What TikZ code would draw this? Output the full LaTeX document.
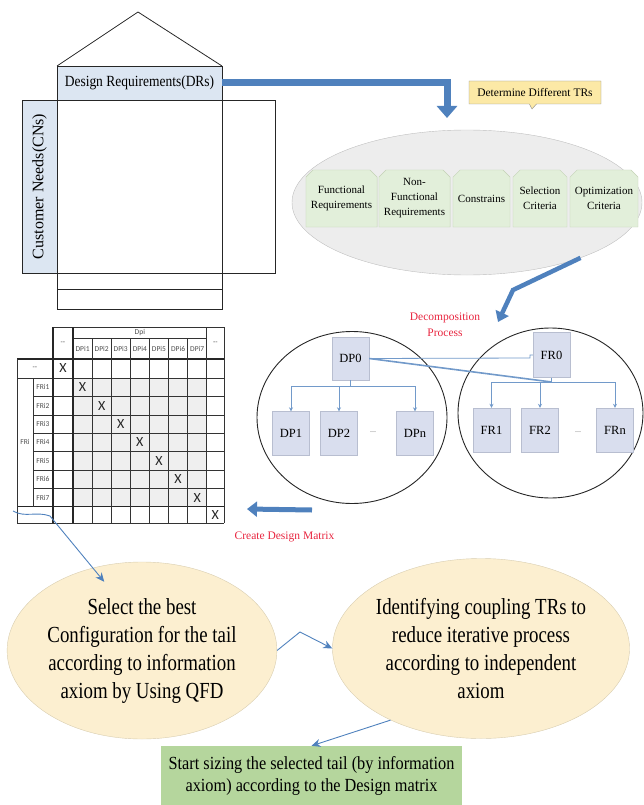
\documentclass[tikz,border=0pt]{standalone}
\usepackage{fontspec}
\setmainfont{Liberation Serif}
\newfontfamily\calfont{Carlito}
\usetikzlibrary{arrows.meta,shapes.geometric,shapes.misc,shapes.callouts}
\definecolor{bandblue}{HTML}{DCE6F2}
\definecolor{arrowblue}{HTML}{4F81BD}
\definecolor{trgreen}{HTML}{E2EFDA}
\definecolor{trgreenline}{HTML}{C3D2B5}
\definecolor{ellgray}{HTML}{EDEDED}
\definecolor{boxblue}{HTML}{D9DEEE}
\definecolor{boxblueline}{HTML}{B8BED0}
\definecolor{ovalyellow}{HTML}{FCEFD0}
\definecolor{ovalline}{HTML}{D8CDB0}
\definecolor{startgreen}{HTML}{B5D69D}
\definecolor{calloutyellow}{HTML}{FCE9A6}
\definecolor{cellgray}{HTML}{EFEFEF}
\definecolor{redtext}{HTML}{E8253F}
\begin{document}
\begin{tikzpicture}[x=1pt,y=-1pt,
    hqline/.style={draw=black!85, line width=0.8pt},
    band/.style={draw=black!85, fill=bandblue, inner sep=0pt, font=\fontsize{13.5}{15}\selectfont},
    fatarrow/.style={draw=arrowblue, line width=7pt, -{Triangle[width=20pt,length=12pt]}},
    thinarrow/.style={draw=arrowblue, line width=0.9pt, -{Stealth[width=8pt,length=9pt]}},
    treeline/.style={draw=arrowblue!80, line width=0.8pt},
    treearrow/.style={treeline, -{Stealth[width=4pt,length=4pt]}},
    trbox/.style={chamfered rectangle, chamfered rectangle corners={north west,north east},
      chamfered rectangle xsep=4pt, fill=trgreen, draw=trgreenline, inner sep=1pt,
      minimum height=57, align=center, font=\fontsize{11}{15}\selectfont},
    dpbox/.style={draw=boxblueline, fill=boxblue, minimum width=37, minimum height=44,
      inner sep=0pt, font=\fontsize{12.5}{14}\selectfont},
    bigcircle/.style={draw=black!85, ellipse, line width=0.9pt, inner sep=0pt},
    gridline/.style={draw=black!80, line width=0.6pt},
    thickgrid/.style={draw=black!85, line width=1.2pt},
    mtxlabel/.style={inner sep=0pt, text=black!70, font=\calfont\fontsize{7.5}{8}\selectfont},
    xmark/.style={inner sep=0pt, text=black!85, font=\calfont\fontsize{14}{14}\selectfont},
    oval/.style={ellipse, draw=ovalline, fill=ovalyellow, inner sep=0pt, align=center,
      xscale=0.82, minimum width=329, minimum height=177, font=\fontsize{23}{28}\selectfont},
    redlabel/.style={text=redtext, align=center, inner sep=0pt, font=\fontsize{11.5}{16}\selectfont}]
  \useasboundingbox (0,0) rectangle (643,805);

  %draw the house of quality
  \node[band, xscale=0.87, minimum width=190, minimum height=34, font=\fontsize{15.5}{17}\selectfont] (drs) at (139.5,83) {Design Requirements(DRs)};
  \node[band, minimum width=173, minimum height=35, rotate=90, font=\fontsize{16}{18}\selectfont] (cns) at (39.5,186.5) {Customer Needs(CNs)};
  \draw[hqline] (57,66) -- (138,12) -- (222,66);
  \draw[hqline] (57,66) rectangle (222,289);
  \draw[hqline] (57,289) rectangle (222,309);
  \draw[hqline] (22,100) rectangle (275,273);

  %determine the different TRs
  \coordinate (trtop) at (447,118);
  \draw[fatarrow] (drs.east) -| (trtop);
  \node[rectangle callout, fill=calloutyellow, draw=black!45, minimum width=132, minimum height=23,
    inner sep=1pt, callout absolute pointer={(532,109)}, font=\fontsize{11.5}{13}\selectfont] (trlabel) at (535,92.5) {Determine Different TRs};
  \node[ellipse, draw=black!25, fill=ellgray, minimum width=350, minimum height=145] (trs) at (467,202.5) {};
  \node[trbox, minimum width=63] (func) at (341.5,198.5) {Functional\\Requirements};
  \node[trbox, minimum width=65] (nonfunc) at (414.5,198.5) {Non-\\Functional\\Requirements};
  \node[trbox, minimum width=53] (constr) at (481.5,198.5) {Constrains};
  \node[trbox, minimum width=54] (select) at (540,198.5) {Selection\\Criteria};
  \node[trbox, minimum width=64] (optim) at (604,198.5) {Optimization\\Criteria};

  %decomposition process
  \coordinate (decomp) at (498,322);
  \draw[fatarrow, line width=4.5pt, -{Triangle[width=14pt,length=10pt]}] (trs.-26) -- (513,290) -- (decomp);
  \node[redlabel] (decomplabel) at (445,325) {Decomposition\\Process};
  \node[bigcircle, minimum width=190, minimum height=172] (dpcircle) at (352,417.5) {};
  \node[bigcircle, minimum width=185, minimum height=170] (frcircle) at (550.5,413) {};

  \node[dpbox, minimum height=43] (dp0) at (350.5,358.5) {DP0};
  \node[dpbox] (dp1) at (291,433.5) {DP1};
  \node[dpbox] (dp2) at (339,433.5) {DP2};
  \node[inner sep=0pt, text=black!60, font=\fontsize{8}{8}\selectfont] (dpdots) at (373,432) {...};
  \node[dpbox] (dpn) at (415,433.5) {DPn};
  \coordinate (dpjoin) at (350.5,386);
  \draw[treeline] (dp0) -- (dpjoin);
  \foreach \n in {dp1,dp2,dpn}
    \draw[treearrow] (dpjoin) -| (\n.north);

  \node[dpbox, minimum height=45] (fr0) at (551.5,355) {FR0};
  \node[dpbox] (fr1) at (491.5,430) {FR1};
  \node[dpbox] (fr2) at (540,430) {FR2};
  \node[inner sep=0pt, text=black!60, font=\fontsize{8}{8}\selectfont] (frdots) at (578,432) {...};
  \node[dpbox] (frn) at (615,430) {FRn};
  \coordinate (frjoin) at (551.5,382);
  \draw[treeline] (fr0) -- (frjoin);
  \foreach \n in {fr1,fr2,frn}
    \draw[treearrow] (frjoin) -| (\n.north);

  \coordinate (linkbend) at (530,358);
  \draw[treeline] (dp0.east) -- (linkbend) |- (fr0.west);
  \draw[treeline, line width=1.6pt] (dp0.east) -- (frjoin);

  %draw the design matrix
  \fill[cellgray] (73,378) rectangle (206.7,506.8);
  \draw[gridline] (53,327) -- (224,327);
  \draw[gridline] (73,338) -- (206.7,338);
  \draw[thickgrid] (17,359) -- (224,359);
  \draw[gridline] (17,378) -- (224,378);
  \foreach \k in {1,...,6}
    \draw[gridline] (33,378+18.4*\k) -- (224,378+18.4*\k);
  \draw[thickgrid] (17,506.8) -- (224,506.8);
  \draw[gridline] (17,523) -- (224,523);
  \draw[gridline] (17,359) -- (17,523);
  \draw[gridline] (33,378) -- (33,506.8);
  \draw[thickgrid] (53,327) -- (53,523);
  \draw[thickgrid] (73,327) -- (73,523);
  \foreach \j in {1,...,6}
    \draw[gridline] (73+19.1*\j,338) -- (73+19.1*\j,523);
  \draw[gridline] (206.7,327) -- (206.7,523);
  \draw[gridline] (224,327) -- (224,523);

  \node[mtxlabel] (dpi) at (139.85,332.5) {Dpi};
  \foreach \j in {1,...,7}
    \node[mtxlabel] (dpi\j) at (73+19.1*\j-9.55,348.5) {DPi\j};
  \node[mtxlabel] (dashtop) at (63,343) {--};
  \node[mtxlabel] (dashend) at (215.35,343) {--};
  \node[mtxlabel] (dashrow) at (35,368.5) {--};
  \node[mtxlabel] (fri) at (25,442.4) {FRi};
  \foreach \k in {1,...,7}
    \node[mtxlabel] (fri\k) at (43,378+18.4*\k-9.2) {FRi\k};
  \node[xmark] (x0) at (63,368.5) {X};
  \foreach \k in {1,...,7}
    \node[xmark] (x\k) at (73+19.1*\k-9.55,378+18.4*\k-9.2) {X};
  \node[xmark] (x8) at (215.35,514.9) {X};

  %create design matrix arrow
  \coordinate (cdmtail) at (312,510);
  \coordinate (cdmhead) at (247,509);
  \draw[fatarrow, line width=5pt, -{Triangle[width=15pt,length=10pt]}] (cdmtail) -- (cdmhead);
  \node[redlabel] (cdmlabel) at (284.5,537) {Create Design Matrix};

  %the steps at the bottom
  \node[oval] (best) at (142,650.5) {Select the best\\Configuration for the tail\\according to information\\axiom by Using QFD};
  \node[oval, minimum width=324, minimum height=180] (identify) at (481,648.5) {Identifying coupling TRs to\\reduce iterative process\\according to independent\\axiom};
  \node[fill=startgreen, xscale=0.88, minimum width=342, minimum height=59, inner sep=0pt, align=center,
    font=\fontsize{18.5}{22}\selectfont] (start) at (311.5,775.5) {Start sizing the selected tail (by information\\axiom) according to the Design matrix};

  \coordinate (mtxtail) at (13,511);
  \draw[thinarrow, shorten >=-18pt] (mtxtail) .. controls (25,518) and (36,511) .. (50,516) -- (best.126);
  \draw[thinarrow] (best.east) -- (300,632) -- (identify.west);
  \draw[thinarrow] (identify.213) -- (start.north);
\end{tikzpicture}
\end{document}
